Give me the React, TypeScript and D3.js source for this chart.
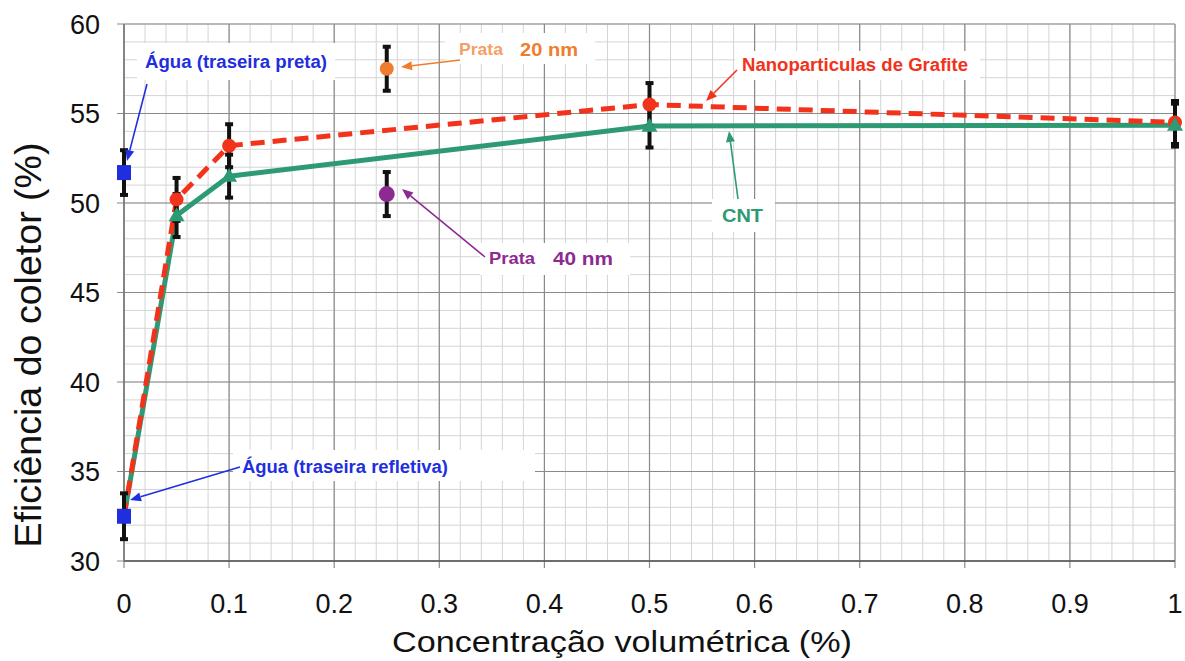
import React from "react";
import * as d3 from "d3";

// ---------- data ----------
const conc = [0, 0.05, 0.1, 0.5, 1];
const grafite = [32.5, 50.2, 53.2, 55.5, 54.5];
const grafiteErr = [0, 1.2, 1.2, 1.2, 1.2];
const cnt = [32.5, 49.3, 51.5, 54.3, 54.35];
const cntErr = [0, 1.2, 1.2, 1.2, 1.2];
const aguaConc = [0, 0];
const aguaValues = [51.7, 32.5];
const aguaErr = [1.25, 1.28];
const prataConc = [0.25, 0.25];
const prataValues = [57.5, 50.5];
const prataErr = [1.23, 1.23];
const xTicks = [0, 0.1, 0.2, 0.3, 0.4, 0.5, 0.6, 0.7, 0.8, 0.9, 1];
const yTicks = [30, 35, 40, 45, 50, 55, 60];
const xTitle = "Concentração volumétrica (%)";
const yTitle = "Eficiência do coletor (%)";

const W = 1185, H = 661;
const FONT = "'Liberation Sans', Arial, Helvetica, sans-serif";
const RED = "#f2321a";
const GREEN = "#2e9a74";
const BLUE = "#1f2fe0";
const ORANGE = "#ef7d2e";
const ORANGE_LIGHT = "#f3a066";
const PURPLE = "#8d2a92";

const x = d3.scaleLinear().domain([0, 1]).range([124, 1175]);
const y = d3.scaleLinear().domain([30, 60]).range([561, 24]);

const minorX = d3.range(0, 1.0001, 0.02);
const minorY = d3.range(30, 60.0001, 1);

function Arrow({ x1, y1, x2, y2, color }: { x1: number; y1: number; x2: number; y2: number; color: string }) {
  const ang = Math.atan2(y2 - y1, x2 - x1);
  const L = 11, Wd = 4.5;
  const bx = x2 - L * Math.cos(ang), by = y2 - L * Math.sin(ang);
  const px = -Math.sin(ang) * Wd, py = Math.cos(ang) * Wd;
  return (
    <g>
      <line x1={x1} y1={y1} x2={bx} y2={by} stroke={color} strokeWidth={1.6} />
      <path d={`M${x2},${y2}L${bx + px},${by + py}L${bx - px},${by - py}Z`} fill={color} />
    </g>
  );
}

function ErrBar({ cx, v, e }: { cx: number; v: number; e: number }) {
  const px = x(cx), y1 = y(v - e), y2 = y(v + e);
  return (
    <g stroke="#111" strokeWidth={4}>
      <line x1={px} x2={px} y1={y1} y2={y2} />
      <line x1={px - 4} x2={px + 4} y1={y1} y2={y1} />
      <line x1={px - 4} x2={px + 4} y1={y2} y2={y2} />
    </g>
  );
}

export default function App() {
  const line = d3.line<number>().x((_, i) => x(conc[i])).y((d) => y(d));
  const tri = d3.symbol().type(d3.symbolTriangle).size(110)();

  return (
    <svg width={W} height={H} style={{ position: "absolute", left: 0, top: 0, background: "#fff" }}>
      <rect width={W} height={H} fill="#fff" />
      {/* minor grid */}
      <g stroke="#d4d4d4" strokeWidth={1}>
        {minorX.map((t, i) => (
          <line key={"mx" + i} x1={x(t)} x2={x(t)} y1={y(60)} y2={y(30)} />
        ))}
        {minorY.map((t, i) => (
          <line key={"my" + i} x1={x(0)} x2={x(1)} y1={y(t)} y2={y(t)} />
        ))}
      </g>
      {/* major grid */}
      <g stroke="#8a8a8a" strokeWidth={1.2}>
        {xTicks.map((t) => (
          <line key={"Mx" + t} x1={x(t)} x2={x(t)} y1={y(60)} y2={y(30) + 7} />
        ))}
        {yTicks.map((t) => (
          <line key={"My" + t} x1={x(0) - 7} x2={x(1)} y1={y(t)} y2={y(t)} />
        ))}
      </g>
      <line x1={x(0)} x2={x(1)} y1={y(30)} y2={y(30)} stroke="#555" strokeWidth={1.5} />
      <line x1={x(0)} x2={x(0)} y1={y(30)} y2={y(60)} stroke="#777" strokeWidth={1.5} />

      {/* tick labels */}
      <g fontFamily={FONT} fontSize={27} fill="#111">
        {xTicks.map((t) => (
          <text key={"xt" + t} x={x(t)} y={613} textAnchor="middle">{String(t)}</text>
        ))}
        {yTicks.map((t) => (
          <text key={"yt" + t} x={100} y={y(t)} dy="0.36em" textAnchor="end">{String(t)}</text>
        ))}
      </g>
      <text x={622} y={652} textAnchor="middle" fontFamily={FONT} fontSize={30} fill="#111"
        textLength={460} lengthAdjust="spacingAndGlyphs">{xTitle}</text>
      <text transform={`translate(41,345) rotate(-90)`} textAnchor="middle" fontFamily={FONT} fontSize={36} fill="#111"
        textLength={405} lengthAdjust="spacingAndGlyphs">{yTitle}</text>

      {/* annotation backgrounds */}
      <g fill="#fff">
        <rect x={137} y={43} width={198} height={37} />
        <rect x={233} y={450} width={302} height={31} />
        <rect x={445} y={33} width={150} height={31} />
        <rect x={735} y={51} width={245} height={29} />
        <rect x={712} y={199} width={63} height={33} />
        <rect x={480} y={243} width={150} height={32} />
      </g>

      {/* series lines */}
      <path d={line(cnt) || ""} fill="none" stroke={GREEN} strokeWidth={5} strokeLinejoin="round" />
      <path d={line(grafite) || ""} fill="none" stroke={RED} strokeWidth={5} strokeDasharray="14 8" />

      {/* error bars */}
      {conc.map((c, i) => (i > 0 ? <ErrBar key={"eg" + i} cx={c} v={grafite[i]} e={grafiteErr[i]} /> : null))}
      {conc.map((c, i) => (i > 0 ? <ErrBar key={"ec" + i} cx={c} v={cnt[i]} e={cntErr[i]} /> : null))}
      {aguaConc.map((c, i) => <ErrBar key={"ea" + i} cx={c} v={aguaValues[i]} e={aguaErr[i]} />)}
      {prataConc.map((c, i) => <ErrBar key={"ep" + i} cx={c} v={prataValues[i]} e={prataErr[i]} />)}

      {/* markers */}
      {conc.map((c, i) => (i > 0 ? <circle key={"mg" + i} cx={x(c)} cy={y(grafite[i])} r={7} fill={RED} /> : null))}
      {conc.map((c, i) => (i > 0 ? <path key={"mc" + i} d={tri || ""} transform={`translate(${x(c)},${y(cnt[i]) + 1})`} fill={GREEN} /> : null))}
      {aguaConc.map((c, i) => (
        <rect key={"ma" + i} x={x(c) - 7} y={y(aguaValues[i]) - 7.5} width={14} height={15} fill={BLUE} />
      ))}
      <circle cx={x(prataConc[0])} cy={y(prataValues[0])} r={7} fill={ORANGE} />
      <circle cx={x(prataConc[1])} cy={y(prataValues[1])} r={8} fill={PURPLE} />

      {/* annotations */}
      <g fontFamily={FONT} fontWeight="bold">
        <text x={145} y={68} fontSize={18} fill={BLUE} textLength={182} lengthAdjust="spacingAndGlyphs">Água (traseira preta)</text>
        <Arrow x1={147} y1={84} x2={127} y2={161} color={BLUE} />
        <text x={242} y={473} fontSize={18} fill={BLUE} textLength={206} lengthAdjust="spacingAndGlyphs">Água (traseira refletiva)</text>
        <Arrow x1={240} y1={467} x2={130} y2={500} color={BLUE} />
        <text x={459} y={55} fontSize={17} fill={ORANGE_LIGHT} textLength={44} lengthAdjust="spacingAndGlyphs">Prata</text>
        <text x={520} y={56} fontSize={19} fill={ORANGE} textLength={58} lengthAdjust="spacingAndGlyphs">20 nm</text>
        <Arrow x1={460} y1={60} x2={401} y2={67} color={ORANGE} />
        <text x={742} y={71} fontSize={18} fill={RED} textLength={226} lengthAdjust="spacingAndGlyphs">Nanoparticulas de Grafite</text>
        <Arrow x1={737} y1={70} x2={706} y2={101} color={RED} />
        <text x={722} y={222} fontSize={19} fill={GREEN} textLength={41} lengthAdjust="spacingAndGlyphs">CNT</text>
        <Arrow x1={738} y1={199} x2={729} y2={131} color={GREEN} />
        <text x={489} y={264} fontSize={17} fill={PURPLE} textLength={46} lengthAdjust="spacingAndGlyphs">Prata</text>
        <text x={553} y={265} fontSize={19} fill={PURPLE} textLength={60} lengthAdjust="spacingAndGlyphs">40 nm</text>
        <Arrow x1={485} y1={257} x2={402} y2={189} color={PURPLE} />
      </g>
    </svg>
  );
}
